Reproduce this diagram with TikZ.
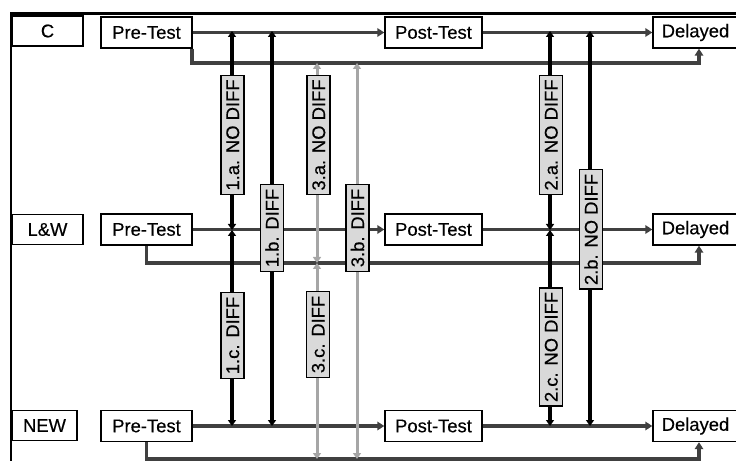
\documentclass[tikz,border=0pt]{standalone}
\usepackage{fontspec}
\setmainfont[FakeBold=0.35]{Liberation Sans}
\usetikzlibrary{arrows.meta,backgrounds}
\definecolor{dgray}{HTML}{404040}
\definecolor{lgray}{HTML}{A6A6A6}
\definecolor{labfill}{HTML}{D9D9D9}
\newcommand{\diafont}{\fontsize{18.4bp}{20bp}\selectfont}
\begin{document}
\begin{tikzpicture}[x=1bp,y=-1bp,
  box/.style={draw, line width=1.4bp, fill=white, inner sep=0pt, minimum height=31bp, font=\diafont},
  grp/.style={box, minimum height=30bp},
  lab/.style={draw, line width=1.1bp, fill=labfill, rotate=90, inner xsep=4bp, inner ysep=0pt,
              text height=13.2bp, text depth=0bp, minimum height=23bp, font=\diafont},
  mainline/.style={draw=dgray, line width=3.6bp},
  mtip/.style={-{Triangle[length=7bp,width=8.5bp]}},
  blk/.style={draw=black, line width=3.6bp, {Triangle[length=6bp,width=8bp]}-{Triangle[length=6bp,width=8bp]}},
  gry/.style={draw=lgray, line width=3bp, {Triangle[length=6bp,width=8bp]}-{Triangle[length=6bp,width=8bp]}}
]
\useasboundingbox (0,0) rectangle (736,461);

% group labels
\node[grp, minimum width=71bp] (gC) at (47.5,31) {C};
\node[grp, minimum width=71bp] (gL) at (47.5,229.5) {L\&W};
\node[grp, minimum width=65bp] (gN) at (44.5,425.5) {NEW};

% test boxes
\node[box, minimum width=91bp] (preC) at (146.5,32.5) {Pre-Test};
\node[box, minimum width=91bp] (preL) at (146.5,229.5) {Pre-Test};
\node[box, minimum width=91bp] (preN) at (146.5,426) {Pre-Test};
\node[box, minimum width=97bp] (postC) at (433.5,32.5) {Post-Test};
\node[box, minimum width=97bp] (postL) at (433.5,229.5) {Post-Test};
\node[box, minimum width=97bp] (postN) at (433.5,426) {Post-Test};
\node[box, minimum width=85bp] (delC) at (695.5,32.5) {Delayed};
\node[box, minimum width=85bp] (delL) at (695.5,229.5) {Delayed};
\node[box, minimum width=85bp] (delN) at (695.5,426) {Delayed};

% comparison labels
\node[lab] (l1a) at (232.5,135) {1.a. NO DIFF};
\node[lab] (l1b) at (272,228) {1.b. DIFF};
\node[lab] (l1c) at (232.5,335.5) {1.c. DIFF};
\node[lab] (l3a) at (318.5,135) {3.a. NO DIFF};
\node[lab] (l3b) at (357.5,228) {3.b. DIFF};
\node[lab] (l3c) at (318,334.5) {3.c. DIFF};
\node[lab] (l2a) at (551,135) {2.a. NO DIFF};
\node[lab] (l2b) at (591,229.5) {2.b. NO DIFF};
\node[lab] (l2c) at (551,347) {2.c. NO DIFF};

% bypass corner coordinates
\coordinate (bC) at (699,63);
\coordinate (bL) at (699,263);
\coordinate (bN) at (699,459);

% vertical endpoints
\coordinate (x1C) at (232,31); \coordinate (x1L) at (232,230); \coordinate (x1N) at (232,426);
\coordinate (x1bC) at (272,31); \coordinate (x1bN) at (272,426);
\coordinate (x3C) at (317,63); \coordinate (x3L) at (317,263); \coordinate (x3N) at (317,459);
\coordinate (x3bC) at (357,63); \coordinate (x3bN) at (357,459);
\coordinate (x2C) at (550,31); \coordinate (x2L) at (550,230); \coordinate (x2N) at (550,426);
\coordinate (x2bC) at (590,31); \coordinate (x2bN) at (590,426);

% frame corners
\coordinate (fBL) at (11,461);
\coordinate (fTL) at (11,13.5);
\coordinate (fTR) at (736,13.5);

\begin{pgfonlayer}{background}
\draw[line width=2.2bp] (fBL) -- (fTL) -- (fTR);
% main rows
\foreach \r in {C,L,N}{
  \draw[mainline,mtip] (pre\r.east) -- (post\r.west);
  \draw[mainline,mtip] (post\r.east) -- (del\r.west);
}
% bypass lines
\draw[mainline,mtip] ([xshift=-0.5bp]preC.south east) |- (bC) -- (bC |- delC.south);
\draw[mainline,mtip] (preL.south) |- (bL) -- (bL |- delL.south);
\draw[mainline,mtip] (preN.south) |- (bN) -- (bN |- delN.south);
% comparisons
\draw[blk] (x1C) -- (x1L);
\draw[blk] (x1L) -- (x1N);
\draw[blk] (x1bC) -- (x1bN);
\draw[gry] (x3C) -- (x3L);
\draw[gry] (x3L) -- (x3N);
\draw[gry] (x3bC) -- (x3bN);
\draw[blk] (x2C) -- (x2L);
\draw[blk] (x2L) -- (x2N);
\draw[blk] (x2bC) -- (x2bN);
\end{pgfonlayer}
\end{tikzpicture}
\end{document}
